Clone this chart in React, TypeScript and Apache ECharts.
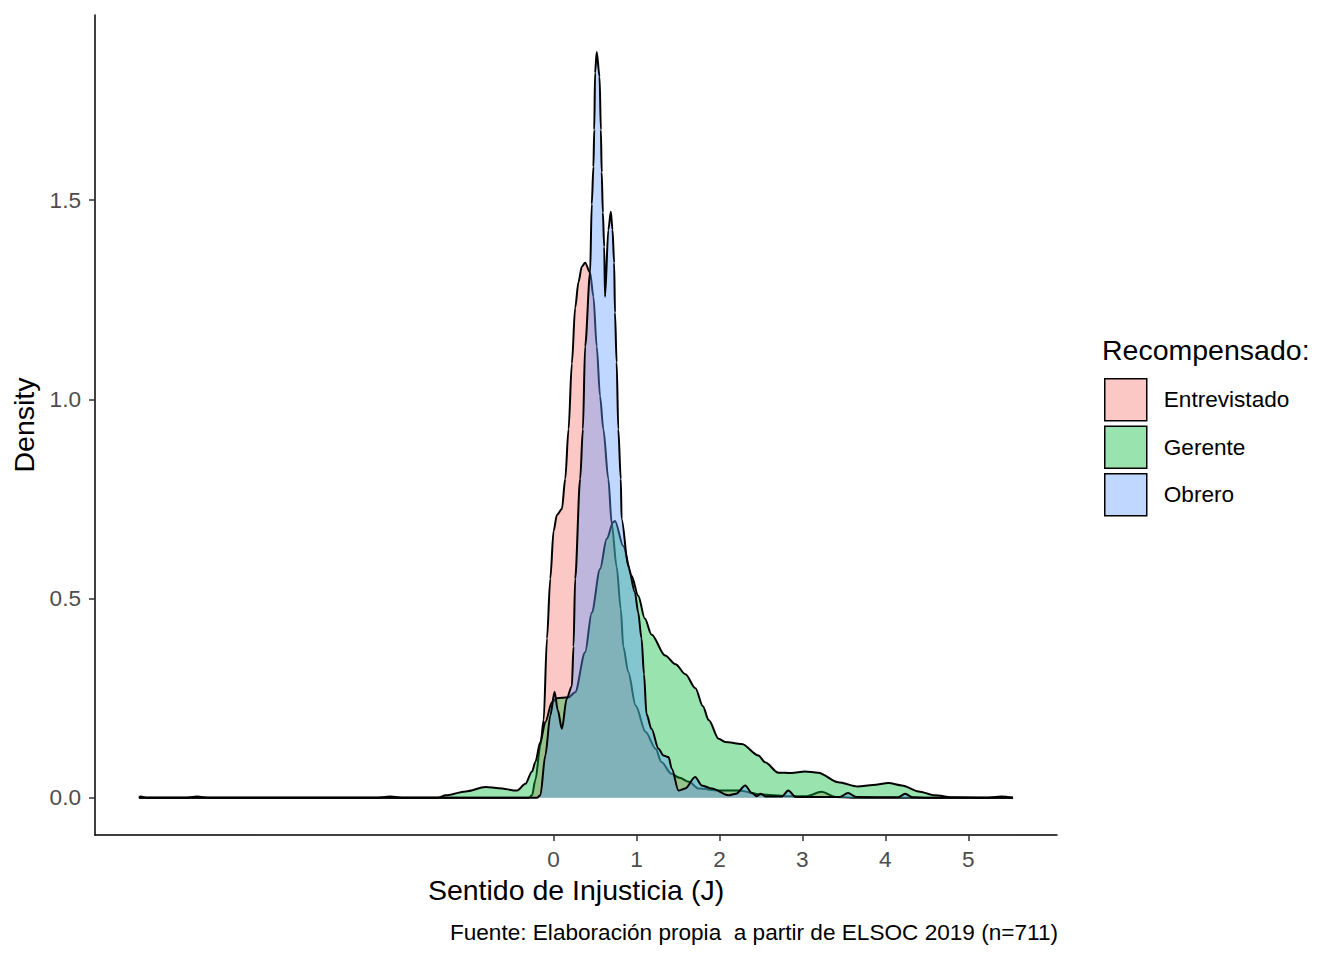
import React, { useEffect, useRef } from "react";
import * as echarts from "echarts";

// densidad estimada: [J, densidad]
const entrevistado: [number, number][] = [
  [-5, 0], [-0.3, 0], [-0.26, 0.006], [-0.22, 0.045], [-0.16, 0.13], [-0.12, 0.195],
  [-0.08, 0.4], [-0.04, 0.55], [0, 0.67], [0.04, 0.71], [0.1, 0.725], [0.14, 0.8],
  [0.18, 0.925], [0.22, 1.09], [0.26, 1.23], [0.3, 1.295], [0.34, 1.333], [0.38, 1.343],
  [0.44, 1.318], [0.48, 1.258], [0.52, 1.133], [0.56, 1.008], [0.6, 0.925], [0.66, 0.8],
  [0.7, 0.69], [0.76, 0.58], [0.81, 0.474], [0.84, 0.38], [0.9, 0.316], [0.99, 0.231],
  [1.11, 0.165], [1.23, 0.123], [1.3, 0.09], [1.42, 0.06], [1.52, 0.05], [1.63, 0.04],
  [1.75, 0.023], [1.99, 0.018], [2.23, 0.018], [2.5, 0.008], [2.8, 0.004], [3.05, 0.004],
  [3.23, 0.015], [3.4, 0.002], [3.6, 0], [5.54, 0],
];

const gerente: [number, number][] = [
  [-5, 0], [-4.98, 0.003], [-4.9, 0], [-4.45, 0], [-4.3, 0.003], [-4.15, 0], [-2.15, 0],
  [-1.97, 0.003], [-1.8, 0], [-1.4, 0], [-1.3, 0.006], [-1.06, 0.016], [-0.82, 0.027],
  [-0.66, 0.024], [-0.44, 0.018], [-0.34, 0.035], [-0.26, 0.066], [-0.22, 0.09],
  [-0.16, 0.14], [-0.1, 0.19], [-0.02, 0.24], [0.04, 0.25], [0.18, 0.252], [0.26, 0.265],
  [0.38, 0.365], [0.46, 0.465], [0.56, 0.574], [0.64, 0.65], [0.72, 0.692], [0.74, 0.695],
  [0.84, 0.632], [0.94, 0.557], [1.02, 0.507], [1.1, 0.45], [1.18, 0.41], [1.345, 0.357],
  [1.47, 0.335], [1.59, 0.31], [1.71, 0.275], [1.8, 0.23], [1.87, 0.195], [1.99, 0.148],
  [2.07, 0.14], [2.27, 0.135], [2.47, 0.106], [2.55, 0.089], [2.71, 0.063], [2.87, 0.062],
  [3.03, 0.066], [3.19, 0.063], [3.43, 0.039], [3.67, 0.028], [3.85, 0.032], [4.04, 0.037],
  [4.2, 0.031], [4.4, 0.016], [4.6, 0.006], [4.8, 0.001], [5.2, 0], [5.4, 0.003], [5.54, 0],
];

const obrero: [number, number][] = [
  [-5, 0], [-0.2, 0], [-0.16, 0.006], [-0.1, 0.106], [-0.04, 0.206], [0.012, 0.266],
  [0.05, 0.22], [0.1, 0.173], [0.157, 0.248], [0.22, 0.28], [0.24, 0.38], [0.26, 0.55],
  [0.32, 0.8], [0.353, 0.925], [0.38, 1.133], [0.44, 1.318], [0.46, 1.49], [0.48, 1.584],
  [0.49, 1.677], [0.5, 1.82], [0.52, 1.872], [0.554, 1.81], [0.57, 1.677], [0.58, 1.57],
  [0.594, 1.469], [0.61, 1.383], [0.62, 1.258], [0.66, 1.426], [0.69, 1.471], [0.71, 1.426],
  [0.73, 1.343], [0.74, 1.218], [0.76, 1.093], [0.78, 0.925], [0.81, 0.8], [0.82, 0.7],
  [0.9, 0.582], [0.98, 0.516], [1.02, 0.465], [1.06, 0.4], [1.09, 0.31], [1.12, 0.21],
  [1.18, 0.173], [1.265, 0.123], [1.325, 0.106], [1.386, 0.102], [1.425, 0.073],
  [1.506, 0.018], [1.587, 0.023], [1.707, 0.052], [1.787, 0.031], [1.907, 0.023],
  [2.11, 0.006], [2.2, 0.01], [2.31, 0.031], [2.39, 0.012], [2.45, 0.004], [2.5, 0.01],
  [2.56, 0.003], [2.75, 0.003], [2.83, 0.018], [2.92, 0.002], [3.45, 0.002], [3.55, 0.012],
  [3.65, 0.002], [4.15, 0.001], [4.24, 0.01], [4.33, 0.001], [4.5, 0], [5.54, 0],
];

const grupos = ["Entrevistado", "Gerente", "Obrero"];
const rellenos = ["rgba(248,118,109,0.4)", "rgba(0,186,56,0.4)", "rgba(97,156,255,0.4)"];
const xTicks = [0, 1, 2, 3, 4, 5];
const yTicks = [0, 0.5, 1, 1.5];

const FONT = "'Liberation Sans', Arial, sans-serif";
const BIG = 28.5;
const SMALL = 22.6;

const App = () => {
  const chartRef = useRef<HTMLDivElement | null>(null);

  useEffect(() => {
    const chart = echarts.init(chartRef.current as HTMLDivElement, undefined, { renderer: "svg" });
    const datos = [entrevistado, gerente, obrero];

    const options = {
      animation: false,
      textStyle: { fontFamily: FONT },
      grid: { left: 95, top: 15, width: 962, height: 820, containLabel: false },
      xAxis: {
        type: "value",
        min: -5.53,
        max: 6.07,
        name: "Sentido de Injusticia (J)",
        nameLocation: "middle",
        nameGap: 40,
        nameTextStyle: { fontSize: BIG, color: "#000", fontFamily: FONT },
        axisLine: { onZero: false, lineStyle: { color: "#000", width: 1.5 } },
        axisTick: { customValues: xTicks, length: 6, lineStyle: { color: "#333", width: 1.5 } },
        axisLabel: { customValues: xTicks, margin: 13, fontSize: SMALL, color: "#4D4D4D" },
        splitLine: { show: false },
      },
      yAxis: {
        type: "value",
        min: -0.0935,
        max: 1.965,
        name: "Density",
        nameLocation: "middle",
        nameGap: 52,
        nameTextStyle: { fontSize: BIG, color: "#000", fontFamily: FONT },
        axisLine: { onZero: false, lineStyle: { color: "#000", width: 1.5 } },
        axisTick: { customValues: yTicks, length: 6, lineStyle: { color: "#333", width: 1.5 } },
        axisLabel: {
          customValues: yTicks,
          margin: 14,
          fontSize: SMALL,
          color: "#4D4D4D",
          formatter: (v: number) => v.toFixed(1),
        },
        splitLine: { show: false },
      },
      legend: {
        orient: "vertical",
        left: 1104,
        top: 378,
        padding: 0,
        itemWidth: 42,
        itemHeight: 42,
        itemGap: 4,
        selectedMode: false,
        textStyle: { fontSize: SMALL, color: "#000", fontFamily: FONT, padding: [0, 0, 0, 12] },
        data: grupos.map((g, i) => ({
          name: g,
          icon: "rect",
          itemStyle: { color: rellenos[i], borderColor: "#000", borderWidth: 1.5 },
        })),
      },
      graphic: [
        {
          type: "text",
          left: 1102,
          top: 335,
          style: { text: "Recompensado:", fontSize: BIG, fill: "#000", fontFamily: FONT },
        },
        {
          type: "text",
          right: 1344 - 1058,
          top: 921,
          style: {
            text: "Fuente: Elaboración propia  a partir de ELSOC 2019 (n=711)",
            fontSize: SMALL,
            fill: "#000",
            fontFamily: FONT,
          },
        },
      ],
      series: grupos.map((g, i) => ({
        name: g,
        type: "line",
        data: datos[i],
        z: 2 + i,
        symbol: "none",
        showSymbol: false,
        smooth: 0.3,
        smoothMonotone: "x",
        lineStyle: { color: "#000", width: 2 },
        itemStyle: { color: rellenos[i] },
        areaStyle: { color: rellenos[i], opacity: 1 },
        emphasis: { disabled: true },
      })),
    };

    chart.setOption(options);
    return () => {
      chart.dispose();
    };
  }, []);

  return (
    <div
      ref={chartRef}
      style={{ position: "fixed", left: 0, top: 0, width: 1344, height: 960, background: "#fff" }}
    ></div>
  );
};

export default App;
